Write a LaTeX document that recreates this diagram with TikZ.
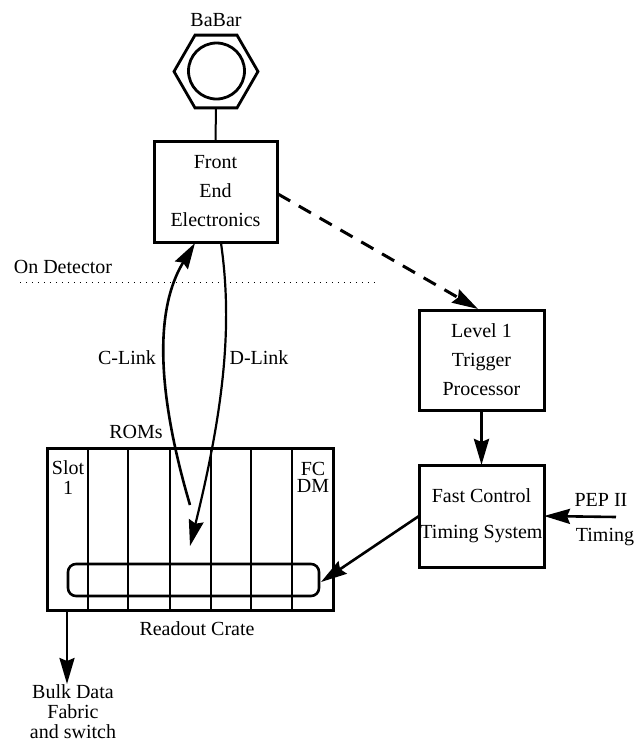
\documentclass[tikz,border=0pt]{standalone}
\usepackage{fontspec}
\setmainfont{Liberation Serif}
\usetikzlibrary{shapes,calc,positioning}
\usetikzlibrary{arrows.meta}
\tikzset{
  unitbox/.style={draw, line width=1.5pt, align=center, inner sep=0pt, outer sep=0pt},
  lbl/.style={align=center, inner sep=0pt, outer sep=0pt},
  link/.style={line width=1.3pt, -{Stealth[length=13pt,width=7.5pt,inset=1.5pt]}},
}
\begin{document}
\begin{tikzpicture}[x=0.5pt,y=-0.5pt]
            \useasboundingbox (0,0) rectangle (637,741);
            % Define points
            \coordinate (CStart) at (190,505);
            \coordinate (CEnd) at (195,243);
            \coordinate (DStart) at (221,243);
            \coordinate (DEnd) at (190,546);
            \coordinate (TrigOut) at (278,194);
            \coordinate (TrigIn) at (478,309);
            \coordinate (PepIn) at (616,517);
            \coordinate (BusIn) at (321,582);
            \coordinate (BulkOut) at (67,684);
            \coordinate (DotL) at (20,282);
            \coordinate (DotR) at (378,282);
            % Detector
            \node[draw, regular polygon, regular polygon sides=6, shape border rotate=0,
              minimum size=42pt, line width=1.4pt, inner sep=0pt, outer sep=0pt] (hex) at (216,71.5) {};
            \node[draw, circle, minimum size=28pt, line width=1.4pt, inner sep=0pt] (det) at (216.5,71) {};
            \node[lbl] (babar) at (216,20) {BaBar};
            % Boxes
            \node[unitbox, minimum width=61.5pt, minimum height=50.5pt] (fee) at (215.5,191.5)
              {Front\\[2.5pt]End\\[2.5pt]Electronics};
            \node[unitbox, minimum width=62.5pt, minimum height=50pt] (l1) at (481.5,360)
              {Level 1\\[2.5pt]Trigger\\[2.5pt]Processor};
            \node[unitbox, minimum width=62.5pt, minimum height=51pt] (fcts) at (481.5,516)
              {Fast Control\\[6pt]Timing System};
            % Crate
            \node[unitbox, minimum width=143pt, minimum height=81pt] (crate) at (190,529) {};
            \foreach \x in {88,128,170,211,251,292}
              \draw[line width=1.3pt] (\x,448) -- (\x,610);
            \node[draw, rounded corners=4pt, line width=1.3pt, minimum width=125.5pt,
              minimum height=16pt, inner sep=0pt, outer sep=0pt] (bus) at (193.5,580) {};
            % Links
            \draw[line width=1pt] (hex.south) -- (fee.north);
            \draw[link] (CStart) .. controls (165,420) and (148,320) .. (CEnd);
            \draw[link, line width=1.1pt] (DStart) .. controls (232,320) and (226,400) .. (DEnd);
            \draw[link, line width=1.5pt, dash pattern=on 7pt off 5pt] (TrigOut) -- (TrigIn);
            \draw[link, line width=1.6pt] (l1.south) -- (fcts.north);
            \draw[link] (PepIn) -- (fcts.east);
            \draw[link] (fcts.west) -- (BusIn);
            \draw[link] (crate.south west -| BulkOut) -- (BulkOut);
            % Detector boundary
            \draw[line width=.4pt, dash pattern=on .6pt off 2.4pt] (DotL) -- (DotR);
            % Labels
            \node[lbl] (ondet) at (63,267) {On Detector};
            \node[lbl] (clink) at (127,358) {C-Link};
            \node[lbl] (dlink) at (259,358) {D-Link};
            \node[lbl] (roms) at (136,432) {ROMs};
            \node[lbl, text width=40pt] (slot) at (68,478) {Slot\\[-2pt]1};
            \node[lbl, text width=40pt] (fcdm) at (313,477) {FC\\[-3.5pt]DM};
            \node[lbl] (crlabel) at (197,629) {Readout Crate};
            \node[lbl] (bulk) at (73,712) {Bulk Data\\[-2pt]Fabric\\[-2pt]and switch};
            \node[lbl] (pep) at (601,500) {PEP II};
            \node[lbl] (timing) at (605,537) {Timing};
\end{tikzpicture}
\end{document}
